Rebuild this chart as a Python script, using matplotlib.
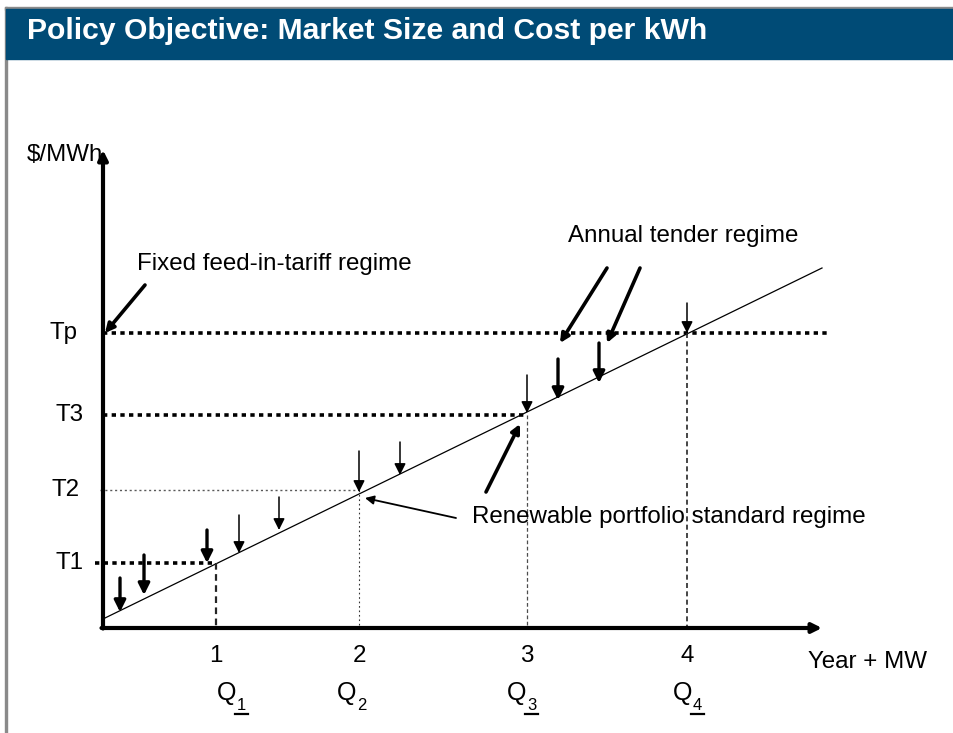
import matplotlib
matplotlib.use("Agg")
from matplotlib import pyplot as plt
from matplotlib.patches import Rectangle

plt.rcParams['font.family'] = ['Liberation Sans', 'DejaVu Sans']

# ---------------- data (schematic units, 1 unit ~ 10 px) ----------------
q_pos = [11.3, 25.6, 42.4, 58.4]          # Q1..Q4 on the MW axis
q_ticks = ["1", "2", "3", "4"]
q_label_x = [12.4, 24.4, 41.4, 58.0]      # where the "Q" letters sit
q_subs = ["1", "2", "3", "4"]

tariff_names = ["T1", "T2", "T3", "Tp"]
tariff_vals = [6.5, 13.8, 21.3, 29.5]
tariff_label_x = [-3.4, -3.7, -3.3, -4.0]
tariff_start = [-0.8, -0.3, 0.0, 0.0]
tariff_end = [11.3, 25.6, 42.4, 72.5]

cost_x = [0.2, 71.9]                      # declining-cost line (cost vs cumulative MW)
cost_y = [1.0, 36.0]

# small downward arrows: x, top, tip, thick?
arrow_x = [1.7, 4.1, 10.4, 13.6, 17.6, 25.6, 29.7, 42.4, 45.5, 49.6, 58.4]
arrow_top = [5.0, 7.3, 9.8, 11.3, 13.1, 17.7, 18.6, 25.3, 26.9, 28.5, 32.5]
arrow_tip = [1.6, 3.3, 6.5, 7.5, 9.8, 13.6, 15.3, 21.5, 22.8, 24.5, 29.5]
arrow_thick = [True, True, True, False, False, False, False, False, True, True, False]

FS = 17.4

# ---------------- figure ----------------
fig = plt.figure(figsize=(9.54, 7.33), dpi=100)
ax = fig.add_axes([0, 0, 1, 1])
ax.set_xlim(-10.3, 85.1)
ax.set_ylim(-10.5, 62.8)
ax.axis('off')

# slide frame + title bar
fig.patches.append(Rectangle((0.005, 0.0), 0.002, 0.99, transform=fig.transFigure, color='#8a8a8a'))
fig.patches.append(Rectangle((0.005, 0.987), 0.995, 0.003, transform=fig.transFigure, color='#8a8a8a'))
fig.patches.append(Rectangle((0.006, 0.92), 0.994, 0.068, transform=fig.transFigure, color='#004b76'))
fig.text(0.028, 0.958, "Policy Objective: Market Size and Cost per kWh", color='white',
         fontsize=21.7, fontweight='bold', va='center', ha='left')

# axes drawn as arrows
ax.annotate('', xy=(0, 47.8), xytext=(0, -0.05),
            arrowprops=dict(arrowstyle='-|>', lw=3, color='k', mutation_scale=14, shrinkA=0, shrinkB=0))
ax.annotate('', xy=(71.9, 0), xytext=(-0.15, 0),
            arrowprops=dict(arrowstyle='-|>', lw=3, color='k', mutation_scale=14, shrinkA=0, shrinkB=0))
ax.text(0.0, 47.3, "$/MWh", ha='right', va='center', fontsize=FS)
ax.text(70.5, -3.4, "Year + MW", ha='left', va='center', fontsize=FS)

# cost line
ax.plot(cost_x, cost_y, color='k', lw=0.9)

# tariff levels
for name, v, lx, s, e in zip(tariff_names, tariff_vals, tariff_label_x, tariff_start, tariff_end):
    if name == "T2":
        ax.plot([s, e], [v, v], color='0.35', lw=1.0, ls=(0, (1.5, 2)))
    else:
        ax.plot([s, e], [v, v], color='k', lw=2.6, ls=(0, (1.2, 1.2)))
    ax.text(lx, v, name, ha='center', va='center', fontsize=FS)

# vertical drop lines to the MW axis
drop_styles = [dict(lw=1.6, ls=(0, (3, 2)), color='0.15'),
               dict(lw=0.8, ls=(0, (1.5, 2.5)), color='0.2'),
               dict(lw=0.9, ls=(0, (3, 2)), color='0.3'),
               dict(lw=1.2, ls=(0, (3, 2)), color='0.15')]
for q, v, st in zip(q_pos, tariff_vals, drop_styles):
    ax.plot([q, q], [v, 0], **st)

# tick numbers and Q labels
for q, t in zip(q_pos, q_ticks):
    ax.text(q, -2.8, t, ha='center', va='center', fontsize=FS)
for lx, sub in zip(q_label_x, q_subs):
    ax.text(lx, -6.5, "Q", ha='center', va='center', fontsize=FS + 0.6)
    ax.text(lx + 1.45, -7.7, sub, ha='center', va='center', fontsize=12)
    if sub != "2":
        ax.plot([lx + 0.8, lx + 2.1], [-8.6, -8.6], color='k', lw=1.6)

# small downward arrows onto the cost line
for x, top, tip, thick in zip(arrow_x, arrow_top, arrow_tip, arrow_thick):
    ax.annotate('', xy=(x, tip), xytext=(x, top),
                arrowprops=dict(arrowstyle='-|>', lw=2.4 if thick else 1.1, color='k',
                                mutation_scale=17, shrinkA=0, shrinkB=0))

# regime annotations
ax.text(3.4, 36.4, "Fixed feed-in-tariff regime", ha='left', va='center', fontsize=FS)
ax.annotate('', xy=(0.2, 29.5), xytext=(4.2, 34.3),
            arrowprops=dict(arrowstyle='-|>', lw=2.6, color='k', mutation_scale=13, shrinkA=0, shrinkB=0))

ax.text(46.5, 39.2, "Annual tender regime", ha='left', va='center', fontsize=FS)
ax.annotate('', xy=(45.7, 28.5), xytext=(50.4, 36.0),
            arrowprops=dict(arrowstyle='-|>', lw=2.6, color='k', mutation_scale=13, shrinkA=0, shrinkB=0))
ax.annotate('', xy=(50.4, 28.5), xytext=(53.7, 36.0),
            arrowprops=dict(arrowstyle='-|>', lw=2.6, color='k', mutation_scale=13, shrinkA=0, shrinkB=0))

ax.text(36.9, 11.1, "Renewable portfolio standard regime", ha='left', va='center', fontsize=FS)
ax.annotate('', xy=(26.2, 13.0), xytext=(35.3, 11.0),
            arrowprops=dict(arrowstyle='-|>', lw=1.3, color='k', mutation_scale=13, shrinkA=0, shrinkB=0))
ax.annotate('', xy=(41.7, 20.4), xytext=(38.3, 13.6),
            arrowprops=dict(arrowstyle='-|>', lw=2.6, color='k', mutation_scale=13, shrinkA=0, shrinkB=0))

fig.savefig("out.png", dpi=100)
